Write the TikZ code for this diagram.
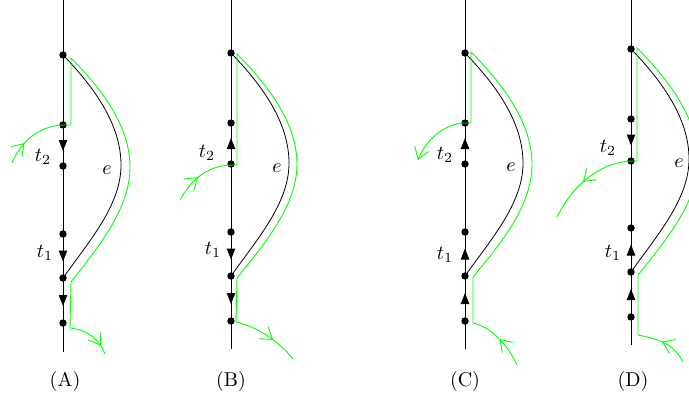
\documentclass[tikz,border=0pt]{standalone}
\usetikzlibrary{arrows.meta,decorations.markings}
\begin{document}
\begin{tikzpicture}[x=0.5pt,y=-0.5pt,
  dot/.style={circle,fill,inner sep=0pt,minimum size=3.7pt},
  axis/.style={line width=0.5pt},
  tri/.style={axis,decoration={markings,mark=at position 0.5 with {\arrow[xshift=2.75pt]{Triangle[length=5.5pt,width=4.2pt]}}},postaction={decorate}},
  ecurve/.style={line width=0.4pt},
  gline/.style={green,line width=0.45pt},
  garrow/.style={gline,decoration={markings,mark=at position #1 with {\arrow{Straight Barb[length=5.5pt,width=7.5pt]}}},postaction={decorate}},
  lab/.style={inner sep=0pt}
]
\useasboundingbox (0,0) rectangle (689,397);

% ---------- Panel A ----------
\begin{scope}[shift={(63,55)}]
  \coordinate (atop) at (0,-55); \coordinate (abot) at (0,297);
  \draw[axis] (atop) -- (abot);
  \node[dot] (a1) at (0,0) {}; \node[dot] (a2) at (0,70) {}; \node[dot] (a3) at (0,111) {};
  \node[dot] (a4) at (0,179) {}; \node[dot] (a5) at (0,223) {}; \node[dot] (a6) at (0,268) {};
  \draw[tri] (a2.center) -- (a3.center);
  \draw[tri] (a4.center) -- (a5.center);
  \draw[tri] (a5.center) -- (a6.center);
  \draw[ecurve] (a1.center) .. controls (32,33) and (58,70) .. (58,110) .. controls (58,150) and (27,185) .. (a5.center);
  \draw[garrow=0.35] (-51,108) .. controls (-43,88) and (-25,71) .. (0,70);
  \draw[gline] (0,70) -- (8,70) -- (8,3) .. controls (40,35) and (67,72) .. (67,112) .. controls (67,153) and (37,190) .. (8,227) -- (7,273);
  \draw[garrow=0.8] (7,273) .. controls (25,275) and (37,285) .. (42,299);
  \node[lab] (at2) at (-20,102) {$t_2$};
  \node[lab] (at1) at (-18,198) {$t_1$};
  \node[lab] (ae) at (44,115) {$e$};
\end{scope}

% ---------- Panel B ----------
\begin{scope}[shift={(231,53)}]
  \coordinate (btop) at (0,-53); \coordinate (bbot) at (0,296);
  \draw[axis] (btop) -- (bbot);
  \node[dot] (b1) at (0,0) {}; \node[dot] (b2) at (0,70) {}; \node[dot] (b3) at (0,111) {};
  \node[dot] (b4) at (0,179) {}; \node[dot] (b5) at (0,223) {}; \node[dot] (b6) at (0,268) {};
  \draw[tri] (b3.center) -- (b2.center);
  \draw[tri] (b4.center) -- (b5.center);
  \draw[tri] (b5.center) -- (b6.center);
  \draw[ecurve] (b1.center) .. controls (32,33) and (58,70) .. (58,110) .. controls (58,150) and (27,185) .. (b5.center);
  \draw[garrow=0.45] (-51,147) .. controls (-41,129) and (-26,113) .. (0,112);
  \draw[gline] (0,112) -- (6,112) -- (6,1) .. controls (38,33) and (66,71) .. (66,111) .. controls (66,152) and (35,189) .. (6,225) -- (5,269);
  \draw[garrow=0.6] (5,269) .. controls (24,273) and (47,287) .. (62,306);
  \node[lab] (bt2) at (-24,100) {$t_2$};
  \node[lab] (bt1) at (-18,197) {$t_1$};
  \node[lab] (be) at (46,115) {$e$};
\end{scope}

% ---------- Panel C ----------
\begin{scope}[shift={(465,53)}]
  \coordinate (ctop) at (0,-53); \coordinate (cbot) at (0,296);
  \draw[axis] (ctop) -- (cbot);
  \node[dot] (c1) at (0,0) {}; \node[dot] (c2) at (0,70) {}; \node[dot] (c3) at (0,111) {};
  \node[dot] (c4) at (0,179) {}; \node[dot] (c5) at (0,223) {}; \node[dot] (c6) at (0,268) {};
  \draw[tri] (c3.center) -- (c2.center);
  \draw[tri] (c5.center) -- (c4.center);
  \draw[tri] (c6.center) -- (c5.center);
  \draw[ecurve] (c1.center) .. controls (32,33) and (58,70) .. (58,110) .. controls (58,150) and (27,185) .. (c5.center);
  \draw[garrow=0.5] (52,312) .. controls (45,297) and (30,275) .. (8,270);
  \draw[gline] (8,270) -- (8,224) .. controls (38,188) and (67,152) .. (67,111) .. controls (67,70) and (38,31) .. (6,-1) -- (6,70) -- (-2,70);
  \draw[garrow=1] (-2,70) .. controls (-20,71) and (-40,87) .. (-47,107);
  \node[lab] (ct2) at (-20,102) {$t_2$};
  \node[lab] (ct1) at (-20,202) {$t_1$};
  \node[lab] (ce) at (46,114) {$e$};
\end{scope}

% ---------- Panel D ----------
\begin{scope}[shift={(631,49)}]
  \coordinate (dtop) at (0,-49); \coordinate (dbot) at (0,296);
  \draw[axis] (dtop) -- (dbot);
  \node[dot] (d1) at (0,0) {}; \node[dot] (d2) at (0,70) {}; \node[dot] (d3) at (0,112) {};
  \node[dot] (d4) at (0,179) {}; \node[dot] (d5) at (0,223) {}; \node[dot] (d6) at (0,268) {};
  \draw[tri] (d2.center) -- (d3.center);
  \draw[tri] (d5.center) -- (d4.center);
  \draw[tri] (d6.center) -- (d5.center);
  \draw[ecurve] (d1.center) .. controls (32,33) and (58,70) .. (58,110) .. controls (58,150) and (27,185) .. (d5.center);
  \draw[garrow=0.55] (52,313) .. controls (44,298) and (34,291) .. (7,286);
  \draw[gline] (7,286) -- (7,226) .. controls (37,189) and (67,152) .. (67,111) .. controls (67,70) and (38,31) .. (6,-1) -- (6,112) -- (0,112);
  \draw[garrow=0.55] (0,112) .. controls (-26,113) and (-56,131) .. (-74,168);
  \node[lab] (dt2) at (-23,99) {$t_2$};
  \node[lab] (dt1) at (-18,204) {$t_1$};
  \node[lab] (de) at (48,114) {$e$};
\end{scope}

% ---------- Captions ----------
\node[lab] (capA) at (65,381) {(A)};
\node[lab] (capB) at (231,381) {(B)};
\node[lab] (capC) at (465,381) {(C)};
\node[lab] (capD) at (633,381) {(D)};
\end{tikzpicture}
\end{document}
